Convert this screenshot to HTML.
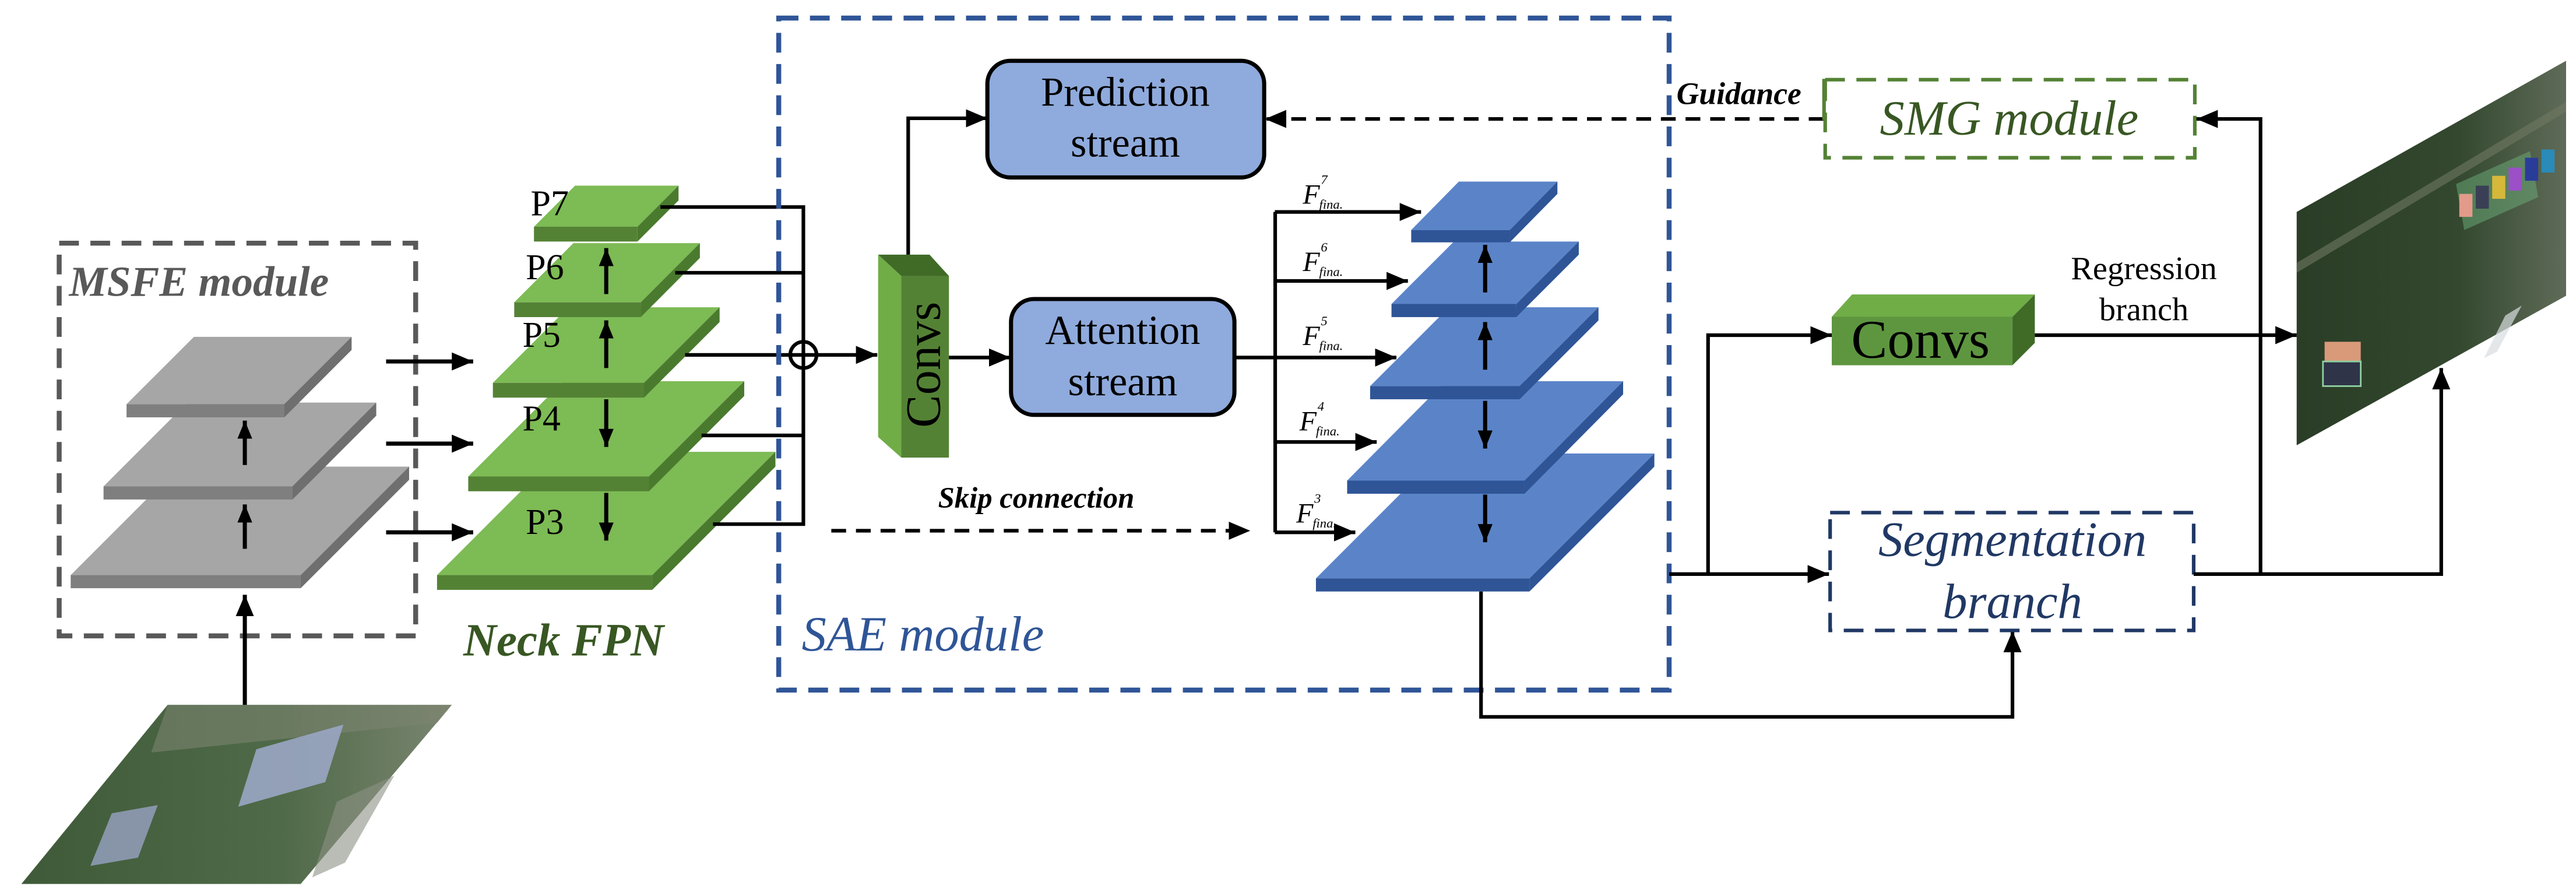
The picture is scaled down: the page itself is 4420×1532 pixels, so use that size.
<!DOCTYPE html>
<html><head><meta charset="utf-8"><style>
html,body{margin:0;padding:0;background:#fff;}
svg{display:block;}
text{font-family:"Liberation Serif",serif;}
</style></head><body>
<svg width="4420" height="1532" viewBox="0 0 1568 543.5" xmlns="http://www.w3.org/2000/svg">
<defs>
<marker id="a" markerUnits="userSpaceOnUse" markerWidth="14" markerHeight="14" refX="13" refY="7" orient="auto"><path d="M0,1.5 L13,7 L0,12.5 Z" fill="#000"/></marker>
<marker id="s" markerUnits="userSpaceOnUse" markerWidth="12" markerHeight="12" refX="11" refY="6" orient="auto"><path d="M0,1.5 L11,6 L0,10.5 Z" fill="#000"/></marker>
<linearGradient id="sat" x1="0" y1="0" x2="1" y2="0"><stop offset="0" stop-color="#2a3d26"/><stop offset="0.6" stop-color="#33482f"/><stop offset="1" stop-color="#5f6b58"/></linearGradient>
<linearGradient id="sat2" x1="0" y1="0" x2="1" y2="0"><stop offset="0" stop-color="#3f5a38"/><stop offset="0.6" stop-color="#4f6a48"/><stop offset="1" stop-color="#7a8570"/></linearGradient>
</defs>

<!-- input image -->
<polygon points="102,429 275,429 183,538 13,538" fill="url(#sat2)"/>
<polygon points="102,429 275,429 266,440 92,458" fill="#7b8470" opacity="0.6"/>
<polygon points="156,456 209,441 198,476 145,491" fill="#9aa6c4" opacity="0.9"/>
<polygon points="68,495 96,490 84,522 55,527" fill="#8f9bb5" opacity="0.9"/>
<polygon points="205,488 240,472 210,525 190,534" fill="#8c9183" opacity="0.6"/>

<!-- output image -->
<polygon points="1398,129 1562,37 1562,180 1398,271" fill="url(#sat)"/>
<polygon points="1398,160 1562,62 1562,68 1398,166" fill="#6f7862" opacity="0.6"/>
<polygon points="1495,112 1540,92 1545,120 1500,140" fill="#6cae7a" opacity="0.5"/>
<rect x="1497" y="118" width="8" height="14" fill="#e39a8a"/>
<rect x="1507" y="113" width="8" height="14" fill="#3a3f55"/>
<rect x="1517" y="107" width="8" height="14" fill="#d6b83a"/>
<rect x="1527" y="102" width="8" height="14" fill="#9b50c8"/>
<rect x="1537" y="96" width="8" height="14" fill="#2a3c9a"/>
<rect x="1547" y="91" width="8" height="14" fill="#2a8ab8"/>
<rect x="1415" y="208" width="22" height="12" fill="#d99a7a"/>
<rect x="1414" y="220" width="23" height="15" fill="#2f3448" stroke="#8fd0a0" stroke-width="1"/>
<polygon points="1525,192 1535,186 1520,214 1512,218" fill="#d8dde0" opacity="0.7"/>

<!-- MSFE -->
<rect x="36" y="148" width="217" height="239" fill="none" stroke="#595959" stroke-width="3" stroke-dasharray="12,7"/>
<text x="42" y="180" font-size="26" font-weight="bold" font-style="italic" fill="#595959">MSFE module</text>
<g>
<polygon points="43,350 183,350 249,284 109,284" fill="#a6a6a6"/><rect x="43" y="350" width="140" height="8" fill="#7f7f7f"/><polygon points="183,350 249,284 249,292 183,358" fill="#6f6f6f"/>
<polygon points="63,296 178,296 229,245 114,245" fill="#a6a6a6"/><rect x="63" y="296" width="115" height="8" fill="#7f7f7f"/><polygon points="178,296 229,245 229,253 178,304" fill="#6f6f6f"/>
<polygon points="77,246 173,246 214,205 118,205" fill="#a6a6a6"/><rect x="77" y="246" width="96" height="8" fill="#7f7f7f"/><polygon points="173,246 214,205 214,213 173,254" fill="#6f6f6f"/>
</g>
<line x1="149" y1="283" x2="149" y2="256" stroke="#000" stroke-width="2.5" marker-end="url(#s)"/>
<line x1="149" y1="334" x2="149" y2="307" stroke="#000" stroke-width="2.5" marker-end="url(#s)"/>
<line x1="149" y1="429" x2="149" y2="362" stroke="#000" stroke-width="2.5" marker-end="url(#a)"/>
<line x1="235" y1="220" x2="288" y2="220" stroke="#000" stroke-width="2.5" marker-end="url(#a)"/>
<line x1="235" y1="270" x2="288" y2="270" stroke="#000" stroke-width="2.5" marker-end="url(#a)"/>
<line x1="235" y1="324" x2="288" y2="324" stroke="#000" stroke-width="2.5" marker-end="url(#a)"/>

<!-- FPN -->
<g>
<polygon points="266,350 397,350 472,275 341,275" fill="#7dbb55"/><rect x="266" y="350" width="131" height="9" fill="#548235"/><polygon points="397,350 472,275 472,284 397,359" fill="#4a7a2e"/>
<polygon points="285,290 395,290 453,232 343,232" fill="#7dbb55"/><rect x="285" y="290" width="110" height="9" fill="#548235"/><polygon points="395,290 453,232 453,241 395,299" fill="#4a7a2e"/>
<polygon points="300,233 392,233 438,187 346,187" fill="#7dbb55"/><rect x="300" y="233" width="92" height="9" fill="#548235"/><polygon points="392,233 438,187 438,196 392,242" fill="#4a7a2e"/>
<polygon points="313,184 390,184 426,148 349,148" fill="#7dbb55"/><rect x="313" y="184" width="77" height="9" fill="#548235"/><polygon points="390,184 426,148 426,157 390,193" fill="#4a7a2e"/>
<polygon points="325,138 388,138 413,113 350,113" fill="#7dbb55"/><rect x="325" y="138" width="63" height="9" fill="#548235"/><polygon points="388,138 413,113 413,122 388,147" fill="#4a7a2e"/>
</g>
<g font-size="22" fill="#000">
<text x="323" y="131">P7</text><text x="320" y="170">P6</text><text x="318" y="211">P5</text><text x="318" y="262">P4</text><text x="320" y="325">P3</text>
</g>
<line x1="369" y1="179" x2="369" y2="151" stroke="#000" stroke-width="2.5" marker-end="url(#s)"/>
<line x1="369" y1="224" x2="369" y2="195" stroke="#000" stroke-width="2.5" marker-end="url(#s)"/>
<line x1="369" y1="243" x2="369" y2="272" stroke="#000" stroke-width="2.5" marker-end="url(#s)"/>
<line x1="369" y1="300" x2="369" y2="329" stroke="#000" stroke-width="2.5" marker-end="url(#s)"/>
<text x="282" y="399" font-size="28" font-weight="bold" font-style="italic" fill="#385723">Neck FPN</text>

<!-- collector -->
<g stroke="#000" stroke-width="2.2" fill="none">
<polyline points="402,126 489,126 489,319 434,319"/>
<line x1="411" y1="166" x2="489" y2="166"/>
<line x1="417" y1="216" x2="481" y2="216"/>
<line x1="427" y1="265" x2="489" y2="265"/>
<circle cx="489" cy="216" r="8"/>
<line x1="481" y1="216" x2="497" y2="216"/>
</g>
<line x1="497" y1="216" x2="534" y2="216" stroke="#000" stroke-width="2.2" marker-end="url(#a)"/>

<!-- SAE -->
<rect x="474" y="11" width="542" height="409" fill="none" stroke="#2f5597" stroke-width="3" stroke-dasharray="12,7"/>
<text x="488" y="396" font-size="30" font-style="italic" fill="#2f5597">SAE module</text>

<!-- Convs vertical -->
<polygon points="534.5,155 565.8,155 577.6,168 548.6,168" fill="#3f6b27"/>
<polygon points="534.5,155 548.6,168 548.6,278.5 534.5,266" fill="#70ad47"/>
<rect x="548.6" y="168" width="29" height="110.5" fill="#548235"/>
<text transform="translate(572,222) rotate(-90)" font-size="30" text-anchor="middle" fill="#000">Convs</text>

<polyline points="552.8,155 552.8,72 601,72" fill="none" stroke="#000" stroke-width="2.2" marker-end="url(#a)"/>
<line x1="577.6" y1="217.6" x2="615" y2="217.6" stroke="#000" stroke-width="2.2" marker-end="url(#a)"/>

<rect x="601" y="37" width="168.5" height="71" rx="14" fill="#8faadc" stroke="#000" stroke-width="2.5"/>
<text x="685" y="64.4" font-size="25" text-anchor="middle">Prediction</text>
<text x="685" y="95.2" font-size="25" text-anchor="middle">stream</text>
<rect x="615.4" y="182" width="136" height="70.5" rx="14" fill="#8faadc" stroke="#000" stroke-width="2.5"/>
<text x="683.4" y="209.3" font-size="25" text-anchor="middle">Attention</text>
<text x="683.4" y="240.6" font-size="25" text-anchor="middle">stream</text>

<!-- guidance -->
<line x1="1110" y1="72.4" x2="770" y2="72.4" stroke="#000" stroke-width="2.2" stroke-dasharray="9,6" marker-end="url(#a)"/>
<text x="1020.5" y="63.3" font-size="19" font-weight="bold" font-style="italic">Guidance</text>

<!-- branch to blue -->
<g stroke="#000" stroke-width="2.2" fill="none">
<line x1="751.4" y1="217.6" x2="776.2" y2="217.6"/>
<line x1="776.2" y1="129" x2="776.2" y2="324"/>
</g>
<g stroke="#000" stroke-width="2.2">
<line x1="776" y1="129" x2="865" y2="129" marker-end="url(#a)"/>
<line x1="776" y1="171" x2="857" y2="171" marker-end="url(#a)"/>
<line x1="776" y1="217.6" x2="850" y2="217.6" marker-end="url(#a)"/>
<line x1="776" y1="269" x2="838" y2="269" marker-end="url(#a)"/>
<line x1="776" y1="324" x2="825" y2="324" marker-end="url(#a)"/>
</g>
<line x1="506" y1="323" x2="761" y2="323" stroke="#000" stroke-width="2.2" stroke-dasharray="9,6" marker-end="url(#a)"/>
<text x="571" y="309" font-size="18" font-weight="bold" font-style="italic">Skip connection</text>

<!-- blue stack -->
<g>
<polygon points="801,352 931,352 1007,276 877,276" fill="#5b84c8"/><rect x="801" y="352" width="130" height="8" fill="#2f5597"/><polygon points="931,352 1007,276 1007,284 931,360" fill="#2f5597"/>
<polygon points="820,292.5 928,292.5 988,232 880,232" fill="#5b84c8"/><rect x="820" y="292.5" width="108" height="8" fill="#2f5597"/><polygon points="928,292.5 988,232 988,240 928,300.5" fill="#2f5597"/>
<polygon points="834,235 925,235 973,187 882,187" fill="#5b84c8"/><rect x="834" y="235" width="91" height="8" fill="#2f5597"/><polygon points="925,235 973,187 973,195 925,243" fill="#2f5597"/>
<polygon points="847,185 923,185 961,147 885,147" fill="#5b84c8"/><rect x="847" y="185" width="76" height="8" fill="#2f5597"/><polygon points="923,185 961,147 961,155 923,193" fill="#2f5597"/>
<polygon points="859,140 919,140 948,110.5 888,110.5" fill="#5b84c8"/><rect x="859" y="140" width="60" height="7.5" fill="#2f5597"/><polygon points="919,140 948,110.5 948,118 919,147.5" fill="#2f5597"/>
</g>
<line x1="904" y1="178" x2="904" y2="149" stroke="#000" stroke-width="2.5" marker-end="url(#s)"/>
<line x1="904" y1="225" x2="904" y2="196" stroke="#000" stroke-width="2.5" marker-end="url(#s)"/>
<line x1="904" y1="244" x2="904" y2="273" stroke="#000" stroke-width="2.5" marker-end="url(#s)"/>
<line x1="904" y1="301" x2="904" y2="330" stroke="#000" stroke-width="2.5" marker-end="url(#s)"/>
<g font-style="italic" fill="#000">
<text x="793" y="124" font-size="17">F</text><text x="804" y="112" font-size="8">7</text><text x="803" y="127" font-size="8">fina.</text>
<text x="793" y="165" font-size="17">F</text><text x="804" y="153" font-size="8">6</text><text x="803" y="168" font-size="8">fina.</text>
<text x="793" y="210" font-size="17">F</text><text x="804" y="198" font-size="8">5</text><text x="803" y="213" font-size="8">fina.</text>
<text x="791" y="262" font-size="17">F</text><text x="802" y="250" font-size="8">4</text><text x="801" y="265" font-size="8">fina.</text>
<text x="789" y="318" font-size="17">F</text><text x="800" y="306" font-size="8">3</text><text x="799" y="321" font-size="8">fina.</text>
</g>

<!-- bottom path to segmentation -->
<polyline points="901.5,360 901.5,436.3 1225,436.3 1225,384" fill="none" stroke="#000" stroke-width="2.2" marker-end="url(#a)"/>

<!-- right side -->
<line x1="1016" y1="349.4" x2="1113.3" y2="349.4" stroke="#000" stroke-width="2.2" marker-end="url(#a)"/>
<polyline points="1039.7,349.4 1039.7,204 1115,204" fill="none" stroke="#000" stroke-width="2.2" marker-end="url(#a)"/>

<!-- Convs horizontal -->
<polygon points="1115,192.8 1127.4,179.2 1238.6,179.2 1225,192.8" fill="#70ad47"/>
<rect x="1115" y="192.8" width="110" height="29.5" fill="#5e9640"/>
<polygon points="1225,192.8 1238.6,179.2 1238.6,208.7 1225,222.3" fill="#3f6b27"/>
<text x="1169" y="217.6" font-size="33" text-anchor="middle">Convs</text>

<line x1="1238.6" y1="204" x2="1398" y2="204" stroke="#000" stroke-width="2.2" marker-end="url(#a)"/>
<text x="1305" y="170" font-size="20" text-anchor="middle">Regression</text>
<text x="1305" y="195" font-size="20" text-anchor="middle">branch</text>

<!-- SMG -->
<rect x="1111" y="48.5" width="225" height="47.5" fill="none" stroke="#548235" stroke-width="2.2" stroke-dasharray="12,7"/>
<line x1="1110.3" y1="48" x2="1110.3" y2="73" stroke="#548235" stroke-width="2.2"/>
<text x="1223" y="82" font-size="30" font-style="italic" text-anchor="middle" fill="#385723">SMG module</text>

<!-- Segmentation -->
<rect x="1114" y="312" width="221.3" height="71.7" fill="none" stroke="#203864" stroke-width="2.2" stroke-dasharray="12,7"/>
<text x="1225" y="338.2" font-size="30" font-style="italic" text-anchor="middle" fill="#203864">Segmentation</text>
<text x="1225" y="376" font-size="30" font-style="italic" text-anchor="middle" fill="#203864">branch</text>

<polyline points="1335.3,349.4 1486,349.4 1486,224" fill="none" stroke="#000" stroke-width="2.2" marker-end="url(#a)"/>
<polyline points="1376,349.4 1376,72.4 1337,72.4" fill="none" stroke="#000" stroke-width="2.2" marker-end="url(#a)"/>
</svg>
</body></html>
